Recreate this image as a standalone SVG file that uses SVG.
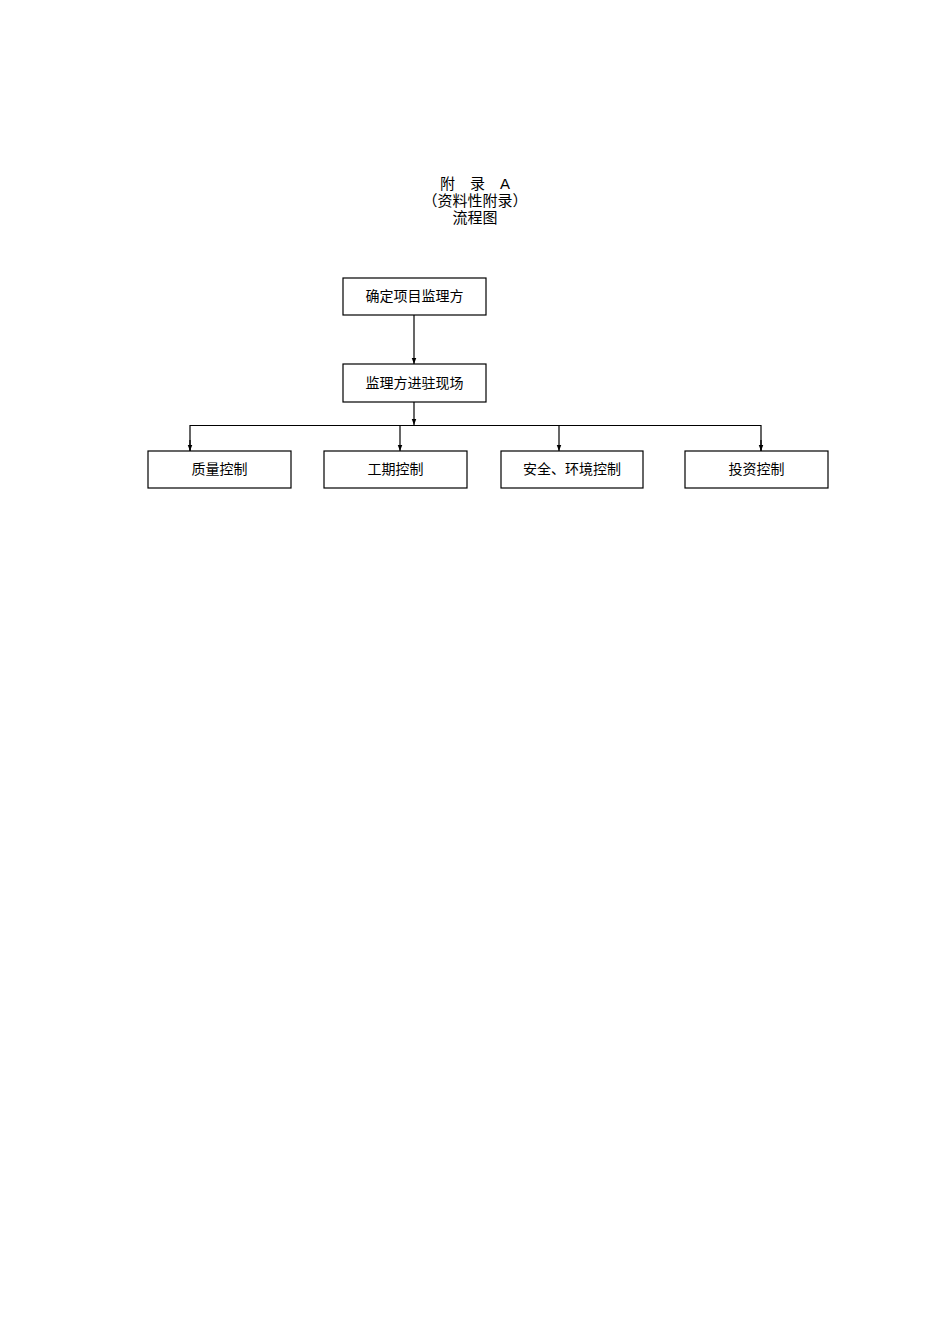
<svg xmlns="http://www.w3.org/2000/svg" width="950" height="1344" viewBox="0 0 950 1344">
<style>
.box{fill:#fff;stroke:#000;stroke-width:1.2}
.lbl{font-family:"Noto Sans CJK SC","Liberation Sans",sans-serif;font-size:14px;fill:#000;text-anchor:middle;dominant-baseline:central}
.ttl{font-family:"Liberation Sans","Noto Sans CJK SC",sans-serif;font-size:15px;fill:#000;text-anchor:middle}
.ln{fill:none;stroke:#000;stroke-width:1.2}
</style>
<defs>
<marker id="arr" markerWidth="6" markerHeight="8" refX="8" refY="3" orient="auto" markerUnits="userSpaceOnUse" viewBox="0 0 8 6">
<path d="M0,0 L8,3 L0,6 Z" fill="#000"/>
</marker>
</defs>
<rect width="950" height="1344" fill="#fff"/>
<g id="title">
<text class="ttl" x="475" y="189">附　录　A</text>
<text class="ttl" x="475" y="206">（资料性附录）</text>
<text class="ttl" x="475" y="223">流程图</text>
</g>
<g id="connectors">
<line class="ln" x1="414" y1="315" x2="414" y2="364" marker-end="url(#arr)"/>
<line class="ln" x1="414" y1="402" x2="414" y2="425" marker-end="url(#arr)"/>
<polyline class="ln" points="190,451 190,425.5 761,425.5 761,451"/>
<line class="ln" x1="190" y1="440" x2="190" y2="451" marker-end="url(#arr)"/>
<line class="ln" x1="400" y1="425" x2="400" y2="451" marker-end="url(#arr)"/>
<line class="ln" x1="559" y1="425" x2="559" y2="451" marker-end="url(#arr)"/>
<line class="ln" x1="761" y1="440" x2="761" y2="451" marker-end="url(#arr)"/>
</g>
<g id="n1"><rect class="box" x="343" y="278" width="143" height="37"/><text class="lbl" x="414.5" y="295">确定项目监理方</text></g>
<g id="n2"><rect class="box" x="343" y="364" width="143" height="38"/><text class="lbl" x="414.5" y="381.5">监理方进驻现场</text></g>
<g id="n3"><rect class="box" x="148" y="451" width="143" height="37"/><text class="lbl" x="219.5" y="468">质量控制</text></g>
<g id="n4"><rect class="box" x="324" y="451" width="143" height="37"/><text class="lbl" x="395.5" y="468">工期控制</text></g>
<g id="n5"><rect class="box" x="501" y="451" width="142" height="37"/><text class="lbl" x="572" y="468">安全、环境控制</text></g>
<g id="n6"><rect class="box" x="685" y="451" width="143" height="37"/><text class="lbl" x="756.5" y="468">投资控制</text></g>
</svg>
